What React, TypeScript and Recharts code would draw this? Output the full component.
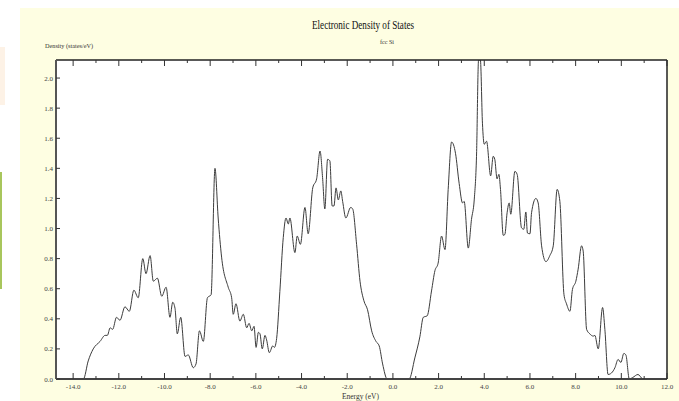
import React from 'react';
import { LineChart, Line, XAxis, YAxis, CartesianGrid } from 'recharts';

// Total density of states for fcc Si, states/eV vs energy in eV
const energy = [
  -14.0, -13.55, -13.34, -13.12, -12.82, -12.6, -12.5, -12.38, -12.27, -12.1,
  -11.95, -11.73, -11.54, -11.34, -11.15, -10.95, -10.81, -10.63, -10.49, -10.31,
  -10.12, -9.93, -9.76, -9.64, -9.54, -9.44, -9.29, -9.1, -8.96, -8.74,
  -8.62, -8.47, -8.3, -8.12, -7.96, -7.79, -7.65, -7.5, -7.21, -7.06,
  -6.99, -6.87, -6.7, -6.55, -6.4, -6.3, -6.18, -6.08, -5.99, -5.89,
  -5.82, -5.72, -5.6, -5.53, -5.41, -5.26, -5.19, -5.09, -4.95, -4.8,
  -4.68, -4.58, -4.51, -4.29, -4.19, -4.05, -3.85, -3.71, -3.51, -3.34,
  -3.19, -3.08, -2.98, -2.86, -2.76, -2.66, -2.58, -2.49, -2.39, -2.28,
  -2.2, -2.06, -1.85, -1.76, -1.59, -1.44, -1.27, -1.11, -0.93, -0.74,
  -0.6, -0.45, -0.25, 0.71, 0.96, 1.18, 1.33, 1.5, 1.69, 1.84,
  1.98, 2.13, 2.28, 2.42, 2.57, 2.74, 2.9, 3.05, 3.12, 3.3,
  3.44, 3.56, 3.66, 3.75, 3.83, 3.92, 4.0, 4.1, 4.28, 4.39,
  4.46, 4.56, 4.64, 4.71, 4.83, 4.9, 5.0, 5.09, 5.16, 5.34,
  5.44, 5.63, 5.73, 5.82, 5.89, 6.0, 6.07, 6.26, 6.36, 6.51,
  6.7, 6.87, 7.02, 7.19, 7.31, 7.49, 7.6, 7.75, 7.86, 8.01,
  8.11, 8.26, 8.33, 8.48, 8.62, 8.77, 8.84, 8.99, 9.18, 9.28,
  9.42, 9.57, 9.72, 9.86, 9.98, 10.11, 10.2, 10.35, 10.5, 10.73,
  10.95, 12.0,
];

const density = [
  0, 0, 0.12, 0.2, 0.25, 0.29, 0.29, 0.34, 0.33, 0.41,
  0.39, 0.48, 0.45, 0.59, 0.54, 0.8, 0.7, 0.82, 0.65, 0.67,
  0.55, 0.61, 0.41, 0.51, 0.47, 0.3, 0.41, 0.15, 0.16, 0.075,
  0.1, 0.32, 0.25, 0.54, 0.56, 1.4, 1.07, 0.81, 0.61, 0.54,
  0.43, 0.5, 0.385, 0.43, 0.34, 0.37, 0.32, 0.35, 0.21, 0.31,
  0.3, 0.2, 0.29, 0.26, 0.175, 0.22, 0.21, 0.27, 0.58, 0.94,
  1.07, 1.03, 1.07, 0.84, 0.95, 0.895, 1.14, 0.965, 1.27, 1.33,
  1.515, 1.34, 1.13, 1.46, 1.45, 1.15, 1.15, 1.27, 1.19, 1.25,
  1.18, 1.07, 1.14, 1.13, 0.895, 0.65, 0.52, 0.46, 0.32, 0.25,
  0.22, 0.1, 0, 0, 0.14, 0.28, 0.41, 0.42, 0.585, 0.72,
  0.77, 0.95, 0.86, 1.26, 1.575, 1.5, 1.3, 1.17, 1.18, 0.87,
  1.06, 1.19, 1.48, 2.12, 2.12, 1.7, 1.56, 1.58, 1.35, 1.48,
  1.46, 1.33, 1.36, 1.26, 0.955, 0.96, 1.105, 1.17, 1.095, 1.38,
  1.36, 1.005, 0.995, 1.11, 0.97, 0.965, 1.105, 1.2, 1.17, 0.885,
  0.78, 0.82, 0.885, 1.26, 1.18, 0.56, 0.5, 0.45, 0.595, 0.65,
  0.73, 0.885, 0.85, 0.33, 0.3, 0.285, 0.29, 0.2, 0.475, 0.33,
  0.03, 0.04, 0.075, 0.13, 0.11, 0.17, 0.16, 0, 0.01, 0.03,
  0, 0,
];

const xTicks = [
  -14, -13, -12, -11, -10, -9, -8, -7, -6, -5, -4, -3, -2, -1, 0,
  1, 2, 3, 4, 5, 6, 7, 8, 9, 10, 11, 12,
];
const yTicks = [0, 0.2, 0.4, 0.6, 0.8, 1.0, 1.2, 1.4, 1.6, 1.8, 2.0];

const data = energy.map((e, i) => ({ e, d: density[i] }));

const FONT = '"Liberation Serif", "Times New Roman", serif';
const INK = '#333';

// ticks point into the plot; labels only on even energies
const BottomTick = (props: any) => {
  const { x, y, payload } = props;
  const major = payload.value % 2 === 0;
  return (
    <g>
      <line x1={x} x2={x} y1={y} y2={y - (major ? 6 : 3)} stroke={INK} />
      {major && (
        <text x={x} y={y + 10} textAnchor="middle" fontSize={7} fontFamily={FONT} fill="#444">
          {payload.value.toFixed(1)}
        </text>
      )}
    </g>
  );
};

const TopTick = (props: any) => {
  const { x, y, payload } = props;
  const major = payload.value % 2 === 0;
  return <line x1={x} x2={x} y1={y} y2={y + (major ? 6 : 3)} stroke={INK} />;
};

const LeftTick = (props: any) => {
  const { x, y, payload } = props;
  return (
    <g>
      <line x1={x} x2={x + 4} y1={y} y2={y} stroke={INK} />
      <text x={x - 3} y={y + 2.5} textAnchor="end" fontSize={7} fontFamily={FONT} fill="#444">
        {payload.value.toFixed(1)}
      </text>
    </g>
  );
};

const RightTick = (props: any) => {
  const { x, y } = props;
  return <line x1={x} x2={x - 4} y1={y} y2={y} stroke={INK} />;
};

export default function App() {
  return (
    <div style={{ position: 'absolute', left: 0, top: 0, width: 679, height: 401, background: '#fff', overflow: 'hidden' }}>
      {/* bits of neighbouring slide content at the left edge */}
      <div style={{ position: 'absolute', left: 0, top: 47, width: 5, height: 58, background: '#fdf2e6' }} />
      <div style={{ position: 'absolute', left: 0, top: 172, width: 2, height: 117, background: '#a8c65c' }} />
      <div style={{ position: 'absolute', left: 20, top: 8, width: 659, height: 393, background: '#fefee2' }} />

      <div style={{ position: 'absolute', left: 0, top: 0 }}>
        <LineChart width={679} height={401} data={data} margin={{ top: 40, right: 2, bottom: 2, left: 26 }}>
          <CartesianGrid horizontal={false} vertical={false} fill="#ffffff" />
          <XAxis
            dataKey="e"
            type="number"
            domain={[-14.75, 12]}
            ticks={xTicks}
            interval={0}
            height={20}
            tickSize={0}
            tickMargin={0}
            tick={<BottomTick />}
            axisLine={{ stroke: '#444', strokeWidth: 2 }}
          />
          <XAxis
            xAxisId="top"
            orientation="top"
            dataKey="e"
            type="number"
            domain={[-14.75, 12]}
            ticks={xTicks}
            interval={0}
            height={20}
            tickSize={0}
            tickMargin={0}
            tick={<TopTick />}
            axisLine={{ stroke: '#222', strokeWidth: 1.5 }}
          />
          <YAxis
            type="number"
            domain={[0, 2.12]}
            ticks={yTicks}
            interval={0}
            width={30}
            tickSize={0}
            tickMargin={0}
            allowDataOverflow
            tick={<LeftTick />}
            axisLine={{ stroke: '#555', strokeWidth: 2 }}
          />
          <YAxis
            yAxisId="right"
            orientation="right"
            type="number"
            domain={[0, 2.12]}
            ticks={yTicks}
            interval={0}
            width={10}
            tickSize={0}
            tickMargin={0}
            tick={<RightTick />}
            axisLine={{ stroke: '#222', strokeWidth: 1.5 }}
          />
          <Line
            type="monotone"
            dataKey="d"
            stroke="#3c3c3c"
            strokeWidth={1}
            dot={false}
            isAnimationActive={false}
          />
        </LineChart>
      </div>

      <svg width={679} height={401} style={{ position: 'absolute', left: 0, top: 0, pointerEvents: 'none' }}>
        <text x={312} y={28.5} fontSize={12} fontFamily={FONT} fill="#111" textLength={102} lengthAdjust="spacingAndGlyphs">
          Electronic Density of States
        </text>
        <text x={380} y={44} fontSize={7} fontFamily={FONT} fill="#333" textLength={14} lengthAdjust="spacingAndGlyphs">
          fcc Si
        </text>
        <text x={45} y={47.5} fontSize={7} fontFamily={FONT} fill="#333" textLength={48} lengthAdjust="spacingAndGlyphs">
          Density (states/eV)
        </text>
        <text x={342} y={398.5} fontSize={7.5} fontFamily={FONT} fill="#333" textLength={37} lengthAdjust="spacingAndGlyphs">
          Energy (eV)
        </text>
      </svg>
    </div>
  );
}
